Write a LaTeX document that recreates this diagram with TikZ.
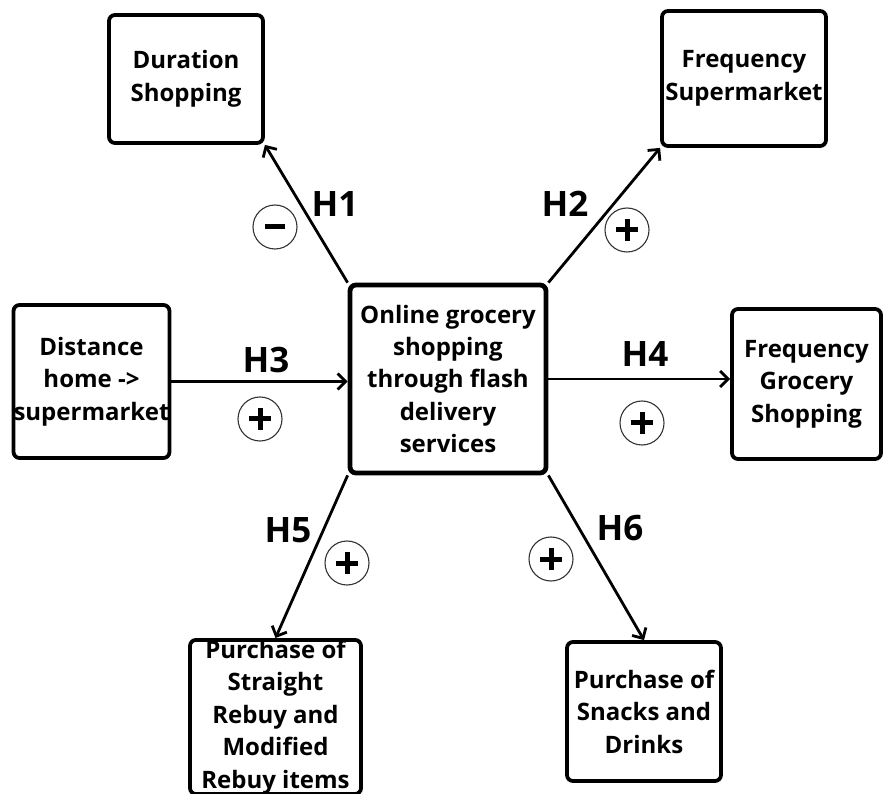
\documentclass[tikz,border=0pt]{standalone}
\usepackage{fontspec}
\setmainfont{Open Sans}
\usetikzlibrary{arrows.meta}
\begin{document}
\begin{tikzpicture}[x=1pt,y=-1pt,
  box/.style={draw=black,line width=3.8pt,rounded corners=6pt,inner sep=0pt,align=center,
    font=\bfseries\fontsize{24}{32.5}\selectfont},
  conn/.style={line width=2.8pt,-{Straight Barb[length=8pt,width=16pt,line width=2.8pt]}},
  hlab/.style={font=\bfseries\fontsize{35}{35}\selectfont,inner sep=0pt},
  sign/.style={circle,draw=black!80,line width=1.1pt,minimum size=44pt,inner sep=0pt},
  bar/.style={line width=5pt}]
\useasboundingbox (0,0) rectangle (887,794);
\node[box,line width=4.8pt,minimum width=196pt,minimum height=188pt] (c) at (448,379)
  {Online grocery\\shopping\\through flash\\delivery\\services};
\node[box,minimum width=154pt,minimum height=128pt] (dur) at (186,79) {Duration\\Shopping};
\node[box,minimum width=164pt,minimum height=135pt] (fs) at (744,78.5) {Frequency\\Supermarket};
\node[box,minimum width=153pt,minimum height=153pt] (dist) at (91.5,381.5) {Distance\\home ->\\supermarket};
\node[box,minimum width=149pt,minimum height=150pt] (fg) at (806.5,384) {Frequency\\Grocery\\Shopping};
\node[box,minimum width=171pt,minimum height=146pt] (st) at (275.5,717) {Purchase of\\Straight\\Rebuy and\\Modified\\Rebuy items};
\node[box,minimum width=154pt,minimum height=139pt] (sn) at (644,711.5) {Purchase of\\Snacks and\\Drinks};
\draw[conn] (c.north west) -- (dur.south east);
\draw[conn] (c.north east) -- (fs.south west);
\draw[conn] (dist.east) -- (dist.east -| c.west);
\draw[conn] (c.east) -- (c.east -| fg.west);
\draw[conn] (c.south west) -- (st.north);
\draw[conn] (c.south east) -- (sn.north);
\node[hlab] (h1) at (335,204) {H1};
\node[hlab] (h2) at (565,204) {H2};
\node[hlab] (h3) at (266,360) {H3};
\node[hlab] (h4) at (645,354) {H4};
\node[hlab] (h5) at (288,530) {H5};
\node[hlab] (h6) at (620,528) {H6};
\node[sign] (s1) at (275,227) {};
\node[sign] (s2) at (627,230) {};
\node[sign] (s3) at (260,419) {};
\node[sign] (s4) at (642,423) {};
\node[sign] (s5) at (347,563) {};
\node[sign] (s6) at (551,559) {};
\draw[bar] ([xshift=-10pt]s1.center) -- ([xshift=10pt]s1.center);
\foreach \s in {s2,s3,s4,s5,s6}{
  \draw[bar] ([xshift=-11pt]\s.center) -- ([xshift=11pt]\s.center);
  \draw[bar] ([yshift=-11pt]\s.center) -- ([yshift=11pt]\s.center);
}
\end{tikzpicture}
\end{document}
